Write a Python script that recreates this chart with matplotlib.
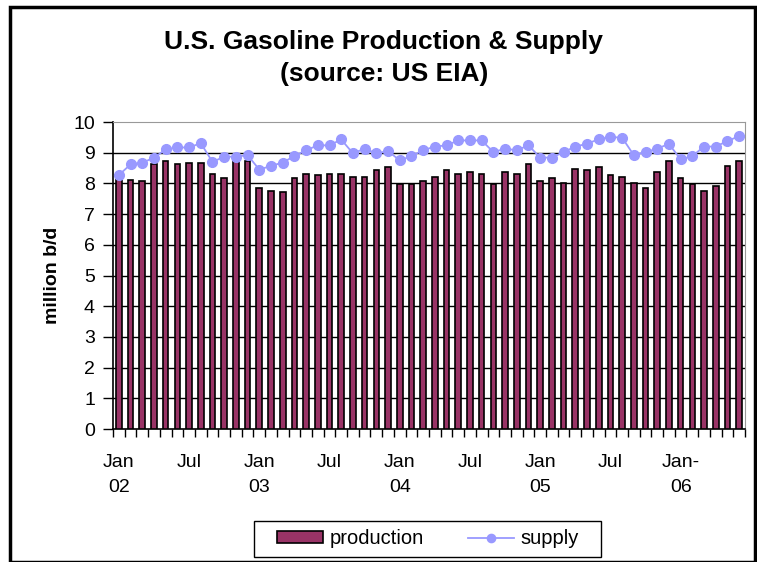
import numpy as np
import matplotlib.pyplot as plt
from matplotlib.patches import Rectangle

plt.rcParams['font.family'] = ['Liberation Sans', 'DejaVu Sans']

# monthly values, Jan 2002 - Jun 2006 (million b/d)
production = [8.17, 8.11, 8.07, 8.62, 8.73, 8.62, 8.68, 8.68, 8.32, 8.17, 8.73, 8.73,
              7.86, 7.76, 7.71, 8.17, 8.32, 8.28, 8.32, 8.32, 8.22, 8.22, 8.43, 8.52,
              7.97, 7.97, 8.07, 8.22, 8.43, 8.32, 8.37, 8.32, 7.97, 8.37, 8.32, 8.62,
              8.07, 8.17, 8.01, 8.47, 8.43, 8.52, 8.28, 8.22, 8.01, 7.86, 8.37, 8.73,
              8.17, 7.97, 7.76, 7.92, 8.58, 8.73]
supply = [8.27, 8.62, 8.68, 8.83, 9.11, 9.17, 9.17, 9.31, 8.70, 8.87, 8.87, 8.92,
          8.45, 8.57, 8.68, 8.89, 9.08, 9.24, 9.24, 9.43, 8.98, 9.13, 8.98, 9.05,
          8.75, 8.89, 9.08, 9.20, 9.24, 9.40, 9.40, 9.40, 9.02, 9.13, 9.08, 9.24,
          8.84, 8.84, 9.02, 9.20, 9.29, 9.44, 9.51, 9.49, 8.92, 9.02, 9.13, 9.29,
          8.78, 8.89, 9.20, 9.20, 9.38, 9.54]
tick_pos = [0, 6, 12, 18, 24, 30, 36, 42, 48]
tick_labels = ['Jan\n02', 'Jul', 'Jan\n03', 'Jul', 'Jan\n04', 'Jul', 'Jan\n05', 'Jul', 'Jan-\n06']

W, H = 757, 562
fig = plt.figure(figsize=(W / 100, H / 100), dpi=100)
ax = fig.add_axes([113 / W, (H - 429) / H, 632 / W, 307 / H])

x = np.arange(len(production))
bars = ax.bar(x, production, width=0.48, color='#993366', edgecolor='black', linewidth=1.2,
              label='production', zorder=3)
line, = ax.plot(x, supply, color='#9999ff', marker='o', markersize=7, linewidth=1.3,
                label='supply', zorder=4)

ax.set_xlim(-0.5, len(production) - 0.5)
ax.set_ylim(0, 10)
ax.set_yticks(range(0, 11))
for v in range(1, 10):
    ax.axhline(v, color='black', linewidth=1, zorder=1)

ax.set_xticks(tick_pos)
ax.set_xticklabels(tick_labels, fontsize=14, linespacing=1.6)
ax.set_xticks(np.arange(-0.5, len(production), 1), minor=True)
ax.tick_params(axis='x', which='major', length=0, pad=18)
ax.tick_params(axis='x', which='minor', length=6, direction='out', width=1)
ax.tick_params(axis='y', length=7, direction='out', width=1, labelsize=14, pad=6)

ax.spines['left'].set_color('black')
ax.spines['bottom'].set_color('black')
ax.spines['top'].set_color('#999999')
ax.spines['right'].set_color('#999999')
ax.spines['left'].set_linewidth(1.2)
ax.spines['bottom'].set_linewidth(1.2)

ax.set_ylabel('million b/d', fontsize=14, fontweight='bold', labelpad=9)

fig.text(0.507, 1 - 42 / H, 'U.S. Gasoline Production & Supply', ha='center', va='center',
         fontsize=19, fontweight='bold')
fig.text(0.507, 1 - 74 / H, '(source: US EIA)', ha='center', va='center',
         fontsize=19, fontweight='bold')

leg = fig.legend([bars, line], ['production', 'supply'], loc='center',
                 bbox_to_anchor=(428 / W, 1 - 539 / H), ncol=2,
                 fontsize=14.5, frameon=False, handlelength=2.3, handleheight=0.55,
                 columnspacing=2.2, borderpad=0.3, handletextpad=0.3, markerscale=0.85)

# legend box and outer chart border
fig.patches.append(Rectangle((254 / W, 1 - 557 / H), 347 / W, 36 / H, transform=fig.transFigure,
                             fill=False, edgecolor='black', linewidth=1))
fig.patches.append(Rectangle((10 / W, 0), (W - 12) / W, 1 - 7 / H, transform=fig.transFigure,
                             fill=False, edgecolor='black', linewidth=2.5))

fig.savefig('out.png', dpi=100)
